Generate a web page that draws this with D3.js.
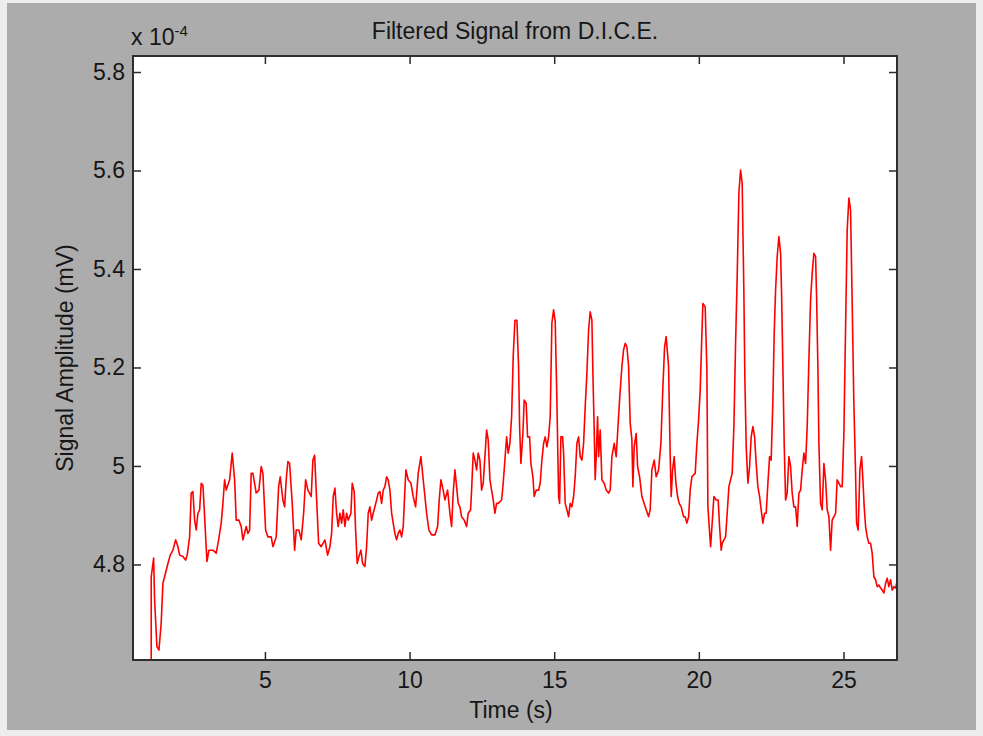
<!DOCTYPE html>
<html>
<head>
<meta charset="utf-8">
<script src="https://cdn.jsdelivr.net/npm/d3@7"></script>
<style>
  body { margin: 0; background: #ededed; }
  svg text { font-family: "Liberation Sans", Arial, sans-serif; fill: #161616; }
</style>
</head>
<body>
<div id="root"></div>
<script>
const WIDTH = 983;
const HEIGHT = 736;
const MARGIN = {top: 56, right: 86, bottom: 76, left: 133};

// signal; amplitude in units of 1e-4 mV
const timeS = [
  1.070, 1.070, 1.153, 1.187, 1.267, 1.336, 1.415, 1.474, 1.533, 1.647,
  1.727, 1.820, 1.913, 1.993, 2.052, 2.166, 2.259, 2.314, 2.397, 2.452,
  2.511, 2.570, 2.625, 2.684, 2.743, 2.798, 2.857, 2.916, 2.995, 3.064,
  3.203, 3.317, 3.400, 3.489, 3.548, 3.607, 3.662, 3.780, 3.870, 3.953,
  4.008, 4.101, 4.181, 4.240, 4.354, 4.412, 4.471, 4.526, 4.585, 4.699,
  4.793, 4.872, 4.931, 5.024, 5.104, 5.218, 5.277, 5.391, 5.474, 5.529,
  5.622, 5.681, 5.736, 5.795, 5.854, 5.944, 6.027, 6.082, 6.175, 6.255,
  6.338, 6.407, 6.486, 6.600, 6.659, 6.718, 6.773, 6.856, 6.946, 7.074,
  7.167, 7.247, 7.306, 7.361, 7.420, 7.478, 7.534, 7.592, 7.651, 7.707,
  7.765, 7.824, 7.879, 7.973, 8.018, 8.087, 8.135, 8.190, 8.249, 8.318,
  8.377, 8.457, 8.515, 8.571, 8.629, 8.688, 8.744, 8.861, 8.916, 8.975,
  9.034, 9.089, 9.148, 9.207, 9.262, 9.321, 9.380, 9.435, 9.493, 9.552,
  9.608, 9.666, 9.725, 9.781, 9.839, 9.874, 9.953, 10.047, 10.126, 10.209,
  10.299, 10.392, 10.472, 10.531, 10.589, 10.669, 10.762, 10.876, 10.970, 11.025,
  11.084, 11.163, 11.222, 11.315, 11.395, 11.454, 11.509, 11.568, 11.626, 11.682,
  11.740, 11.799, 11.889, 11.972, 12.027, 12.110, 12.145, 12.200, 12.259, 12.318,
  12.373, 12.432, 12.490, 12.546, 12.605, 12.663, 12.719, 12.778, 12.836, 12.892,
  12.950, 13.009, 13.065, 13.182, 13.237, 13.296, 13.355, 13.410, 13.469, 13.528,
  13.583, 13.642, 13.711, 13.769, 13.804, 13.849, 13.918, 13.963, 14.032, 14.080,
  14.150, 14.195, 14.264, 14.309, 14.378, 14.461, 14.516, 14.575, 14.634, 14.689,
  14.748, 14.806, 14.862, 14.920, 14.979, 15.035, 15.093, 15.152, 15.187, 15.232,
  15.290, 15.325, 15.380, 15.439, 15.498, 15.553, 15.612, 15.671, 15.726, 15.785,
  15.843, 15.899, 15.958, 16.016, 16.072, 16.130, 16.189, 16.244, 16.303, 16.338,
  16.383, 16.417, 16.452, 16.500, 16.535, 16.590, 16.649, 16.728, 16.798, 16.880,
  16.936, 16.995, 17.074, 17.143, 17.191, 17.260, 17.340, 17.399, 17.454, 17.513,
  17.572, 17.627, 17.686, 17.720, 17.765, 17.834, 17.883, 17.952, 18.031, 18.146,
  18.263, 18.318, 18.377, 18.457, 18.526, 18.609, 18.688, 18.758, 18.816, 18.871,
  18.954, 19.010, 19.044, 19.093, 19.148, 19.207, 19.265, 19.321, 19.390, 19.473,
  19.528, 19.587, 19.646, 19.701, 19.760, 19.874, 19.933, 19.991, 20.047, 20.106,
  20.140, 20.220, 20.278, 20.313, 20.406, 20.461, 20.520, 20.600, 20.669, 20.717,
  20.773, 20.807, 20.866, 20.925, 20.980, 21.039, 21.098, 21.153, 21.212, 21.270,
  21.325, 21.384, 21.443, 21.498, 21.557, 21.592, 21.637, 21.696, 21.754, 21.810,
  21.868, 21.927, 21.982, 22.041, 22.100, 22.155, 22.214, 22.273, 22.328, 22.387,
  22.446, 22.501, 22.560, 22.605, 22.653, 22.708, 22.767, 22.826, 22.860, 22.905,
  22.950, 22.999, 23.054, 23.113, 23.171, 23.227, 23.286, 23.344, 23.400, 23.459,
  23.517, 23.573, 23.631, 23.690, 23.746, 23.804, 23.863, 23.918, 23.977, 24.036,
  24.070, 24.115, 24.150, 24.208, 24.264, 24.323, 24.381, 24.437, 24.496, 24.554,
  24.609, 24.668, 24.727, 24.782, 24.841, 24.900, 24.955, 25.014, 25.073, 25.128,
  25.187, 25.245, 25.301, 25.359, 25.418, 25.453, 25.508, 25.567, 25.626, 25.671,
  25.716, 25.764, 25.819, 25.878, 25.937, 25.992, 26.051, 26.110, 26.165, 26.224,
  26.283, 26.338, 26.397, 26.455, 26.511, 26.569, 26.628, 26.683, 26.742, 26.801,
  26.850
];

const amplitude = [
  4.580, 4.775, 4.813, 4.728, 4.633, 4.626, 4.681, 4.762, 4.775, 4.802,
  4.819, 4.829, 4.850, 4.836, 4.819, 4.816, 4.809, 4.819, 4.856, 4.945,
  4.948, 4.890, 4.870, 4.904, 4.911, 4.965, 4.961, 4.897, 4.806, 4.829,
  4.829, 4.823, 4.850, 4.884, 4.924, 4.972, 4.951, 4.972, 5.026, 4.972,
  4.890, 4.890, 4.877, 4.850, 4.877, 4.863, 4.870, 4.985, 4.985, 4.945,
  4.951, 4.999, 4.985, 4.870, 4.856, 4.856, 4.836, 4.856, 4.958, 4.978,
  4.931, 4.917, 4.972, 5.009, 5.005, 4.924, 4.829, 4.870, 4.870, 4.850,
  4.904, 4.972, 4.951, 4.938, 5.012, 5.022, 4.951, 4.843, 4.836, 4.850,
  4.819, 4.836, 4.863, 4.938, 4.955, 4.904, 4.877, 4.904, 4.884, 4.911,
  4.877, 4.904, 4.890, 4.904, 4.965, 4.948, 4.870, 4.802, 4.816, 4.829,
  4.802, 4.796, 4.836, 4.904, 4.917, 4.890, 4.904, 4.931, 4.945, 4.948,
  4.924, 4.951, 4.958, 4.978, 4.972, 4.951, 4.904, 4.884, 4.863, 4.850,
  4.863, 4.870, 4.856, 4.877, 4.951, 4.992, 4.972, 4.965, 4.938, 4.917,
  4.985, 5.019, 4.972, 4.938, 4.904, 4.870, 4.860, 4.860, 4.877, 4.931,
  4.972, 4.951, 4.931, 4.951, 4.904, 4.877, 4.945, 4.992, 4.958, 4.924,
  4.917, 4.897, 4.890, 4.877, 4.904, 4.911, 4.951, 5.026, 5.012, 4.992,
  5.026, 5.012, 4.951, 4.965, 5.019, 5.073, 5.053, 4.972, 4.951, 4.931,
  4.904, 4.924, 4.924, 4.931, 4.965, 5.012, 5.059, 5.026, 5.046, 5.100,
  5.222, 5.296, 5.296, 5.202, 5.080, 5.005, 5.066, 5.134, 5.127, 5.059,
  5.059, 5.005, 4.978, 4.938, 4.951, 4.951, 4.965, 5.012, 5.046, 5.059,
  5.039, 5.059, 5.100, 5.290, 5.317, 5.293, 5.134, 4.938, 4.924, 5.059,
  5.059, 5.026, 4.924, 4.911, 4.897, 4.924, 4.917, 4.938, 4.978, 5.046,
  5.059, 5.019, 5.012, 5.046, 5.120, 5.188, 5.276, 5.313, 5.296, 5.188,
  5.073, 4.972, 5.019, 5.100, 5.019, 5.073, 4.972, 4.965, 4.951, 4.945,
  4.951, 5.019, 5.046, 5.019, 5.066, 5.134, 5.202, 5.236, 5.249, 5.242,
  5.202, 5.087, 5.053, 4.958, 5.039, 5.066, 4.999, 4.978, 4.938, 4.917,
  4.897, 4.911, 4.992, 5.012, 4.978, 4.992, 5.046, 5.161, 5.242, 5.263,
  5.202, 5.019, 4.938, 4.992, 5.019, 4.965, 4.938, 4.924, 4.917, 4.897,
  4.897, 4.884, 4.897, 4.951, 4.978, 4.985, 5.046, 5.093, 5.154, 5.269,
  5.330, 5.323, 5.195, 4.917, 4.836, 4.884, 4.938, 4.931, 4.931, 4.877,
  4.829, 4.843, 4.850, 4.856, 4.904, 4.958, 4.972, 4.985, 5.080, 5.249,
  5.384, 5.554, 5.601, 5.574, 5.351, 5.175, 5.039, 4.965, 4.999, 5.059,
  5.080, 5.059, 5.005, 4.958, 4.938, 4.911, 4.884, 4.904, 4.904, 4.965,
  5.019, 5.012, 5.134, 5.269, 5.357, 5.425, 5.466, 5.432, 5.351, 5.202,
  5.046, 4.931, 4.945, 5.019, 4.999, 4.945, 4.917, 4.917, 4.877, 4.945,
  4.951, 4.992, 5.026, 5.005, 5.080, 5.215, 5.337, 5.391, 5.432, 5.425,
  5.344, 5.202, 5.046, 4.924, 4.911, 5.005, 4.972, 4.911, 4.897, 4.829,
  4.890, 4.897, 4.904, 4.972, 4.965, 4.958, 4.958, 5.066, 5.283, 5.479,
  5.544, 5.520, 5.330, 5.127, 4.985, 4.884, 4.870, 4.992, 5.019, 4.972,
  4.917, 4.877, 4.856, 4.843, 4.843, 4.823, 4.775, 4.769, 4.755, 4.758,
  4.752, 4.748, 4.742, 4.762, 4.772, 4.755, 4.769, 4.748, 4.755, 4.752,
  4.765
];

const xTicks = [5, 10, 15, 20, 25];
const yTicks = [4.8, 5.0, 5.2, 5.4, 5.6, 5.8];
const xDomain = [0.44, 26.85];
const yDomain = [4.606, 5.8325];

const xScale = d3.scaleLinear()
    .domain(xDomain)
    .range([MARGIN.left, WIDTH - MARGIN.right]);

const yScale = d3.scaleLinear()
    .domain(yDomain)
    .range([HEIGHT - MARGIN.bottom, MARGIN.top]);

const svg = d3.select("#root")
    .append("svg")
    .attr("width", WIDTH)
    .attr("height", HEIGHT)
    .style("display", "block");

// grey figure window
svg.append("rect")
    .attr("x", 7).attr("y", 3)
    .attr("width", 969).attr("height", 727)
    .attr("fill", "#acacac");

const plotW = WIDTH - MARGIN.left - MARGIN.right;
const plotH = HEIGHT - MARGIN.top - MARGIN.bottom;

svg.append("rect")
    .attr("x", MARGIN.left).attr("y", MARGIN.top)
    .attr("width", plotW).attr("height", plotH)
    .attr("fill", "#ffffff");

svg.append("clipPath")
    .attr("id", "plotClip")
    .append("rect")
    .attr("x", MARGIN.left).attr("y", MARGIN.top)
    .attr("width", plotW).attr("height", plotH);

const points = timeS.map((t, i) => ({t: t, v: amplitude[i]}));

const line = d3.line()
    .x(d => xScale(d.t))
    .y(d => yScale(d.v));

svg.append("path")
    .datum(points)
    .attr("clip-path", "url(#plotClip)")
    .attr("fill", "none")
    .attr("stroke", "#ff0000")
    .attr("stroke-width", 1.6)
    .attr("stroke-linejoin", "round")
    .attr("d", line);

// axes, ticks pointing inward on all four sides
const fmtY = d => d3.format(".1f")(d).replace(/\.0$/, "");

const axisLayer = svg.append("g")
    .attr("class", "axisLayer");

const xAxisBottom = axisLayer.append("g")
    .attr("transform", `translate(0, ${HEIGHT - MARGIN.bottom})`)
    .call(d3.axisBottom(xScale).tickValues(xTicks).tickSize(-8).tickPadding(12).tickSizeOuter(0));

axisLayer.append("g")
    .attr("transform", `translate(0, ${MARGIN.top})`)
    .call(d3.axisTop(xScale).tickValues(xTicks).tickSize(-8).tickFormat("").tickSizeOuter(0));

const yAxisLeft = axisLayer.append("g")
    .attr("transform", `translate(${MARGIN.left}, 0)`)
    .call(d3.axisLeft(yScale).tickValues(yTicks).tickSize(-8).tickPadding(8).tickFormat(fmtY).tickSizeOuter(0));

axisLayer.append("g")
    .attr("transform", `translate(${WIDTH - MARGIN.right}, 0)`)
    .call(d3.axisRight(yScale).tickValues(yTicks).tickSize(-8).tickFormat("").tickSizeOuter(0));

axisLayer.selectAll(".domain").remove();
axisLayer.selectAll(".tick line")
    .attr("stroke", "#2a2a2a")
    .attr("stroke-width", 1.5);
axisLayer.selectAll(".tick text")
    .attr("fill", "#161616")
    .style("font-size", "23px")
    .style("font-family", "\"Liberation Sans\", Arial, sans-serif");

// axes box
svg.append("rect")
    .attr("x", MARGIN.left).attr("y", MARGIN.top)
    .attr("width", plotW).attr("height", plotH)
    .attr("fill", "none")
    .attr("stroke", "#2e2e2e")
    .attr("stroke-width", 2);

// title, labels, exponent
svg.append("text")
    .attr("x", MARGIN.left + plotW / 2)
    .attr("y", 39)
    .attr("text-anchor", "middle")
    .style("font-size", "23px")
    .text("Filtered Signal from D.I.C.E.");

svg.append("text")
    .attr("x", MARGIN.left + plotW / 2 - 4)
    .attr("y", 718)
    .attr("text-anchor", "middle")
    .style("font-size", "23px")
    .text("Time (s)");

svg.append("text")
    .attr("transform", `translate(73, ${MARGIN.top + plotH / 2}) rotate(-90)`)
    .attr("text-anchor", "middle")
    .style("font-size", "23px")
    .text("Signal Amplitude (mV)");

const expo = svg.append("text")
    .attr("x", 131)
    .attr("y", 45)
    .style("font-size", "23px");
expo.append("tspan").text("x 10");
expo.append("tspan")
    .attr("dy", -9)
    .style("font-size", "15px")
    .text("-4");
</script>
</body>
</html>
